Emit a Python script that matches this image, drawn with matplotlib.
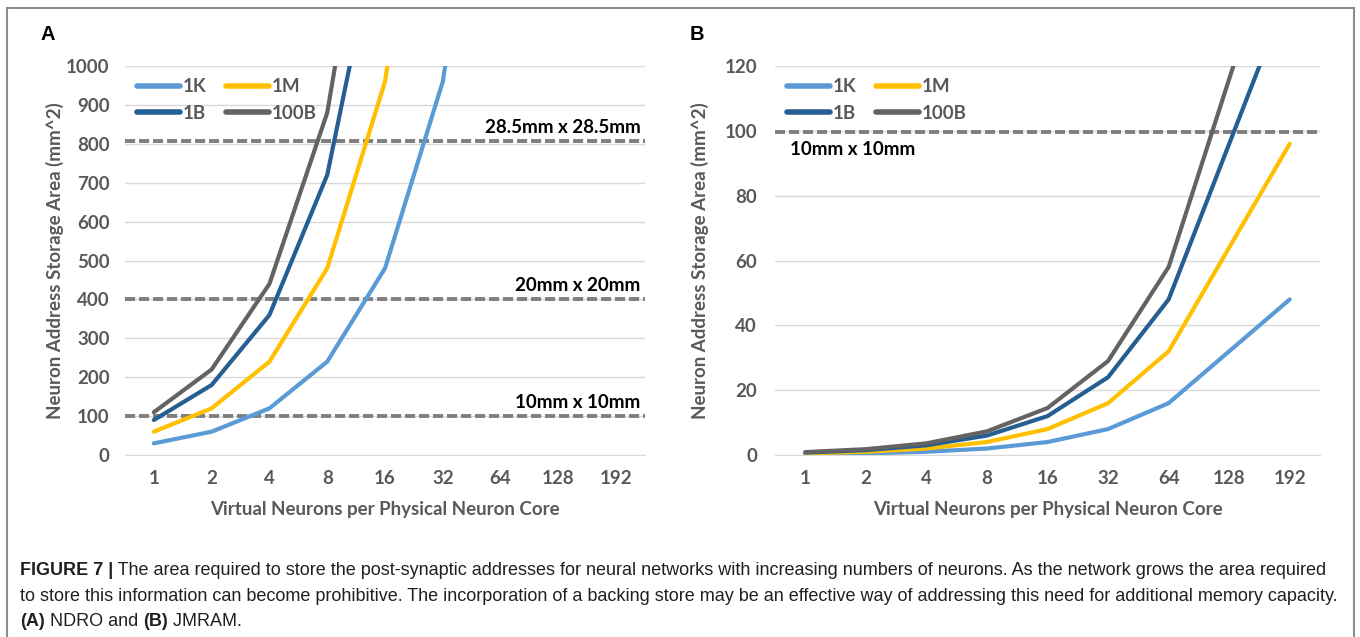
import numpy as np
import matplotlib.pyplot as plt
from matplotlib.lines import Line2D

# data
cores = ['1', '2', '4', '8', '16', '32', '64', '128', '192']
series = ['1K', '1M', '1B', '100B']
colors = ['#5B9BD5', '#FFC000', '#255E91', '#636363']

# panel A (NDRO), values past the top of the axis only fix the slope of the last segment
ndro_1k = [30, 60, 120, 240, 480, 960, 1920, np.nan, np.nan]
ndro_1m = [60, 120, 240, 480, 960, 1920, np.nan, np.nan, np.nan]
ndro_1b = [90, 180, 360, 720, 1440, np.nan, np.nan, np.nan, np.nan]
ndro_100b = [110, 220, 440, 880, 1760, np.nan, np.nan, np.nan, np.nan]

# panel B (JMRAM)
jmram_1k = [0.25, 0.5, 1, 2, 4, 8, 16, 32, 48]
jmram_1m = [0.5, 1, 2, 4, 8, 16, 32, 64, 96]
jmram_1b = [0.75, 1.5, 3, 6, 12, 24, 48, 96, 144]
jmram_100b = [0.9, 1.8, 3.6, 7.3, 14.5, 29, 58, 116, 174]

limits_a = [(806, '28.5mm x 28.5mm'), (400, '20mm x 20mm'), (100, '10mm x 10mm')]
limits_b = [(99.5, '10mm x 10mm')]

FONT = 'Lato'
TXT = '#595959'
FS = 13.5

fig = plt.figure(figsize=(13.6, 6.37), dpi=100)


def draw_panel(ax, data, ymax, ystep, ypad):
	x = np.arange(len(cores))
	lines = []
	for vals, name, c in zip(data, series, colors):
		ln, = ax.plot(x, vals, color=c, lw=3, label=name, solid_capstyle='round')
		lines.append(ln)
	ax.set_xlim(-0.5, len(cores) - 0.5)
	ax.set_ylim(0, ymax)
	ax.set_xticks(x)
	ax.set_xticklabels(cores)
	ax.set_yticks(np.arange(0, ymax + 1, ystep))
	ax.grid(axis='y', color='#D9D9D9', lw=1)
	ax.set_axisbelow(True)
	for s in ['left', 'right', 'top']:
		ax.spines[s].set_visible(False)
	ax.spines['bottom'].set_color('#D9D9D9')
	ax.tick_params(axis='both', length=0, labelsize=FS, labelcolor=TXT)
	ax.tick_params(axis='x', pad=11)
	ax.tick_params(axis='y', pad=ypad)
	for lab in ax.get_xticklabels() + ax.get_yticklabels():
		lab.set_fontfamily(FONT)
		lab.set_fontweight('bold')
	ax.set_xlabel('Virtual Neurons per Physical Neuron Core', fontsize=FS,
		fontweight='bold', color=TXT, fontfamily=FONT, labelpad=10)
	ax.set_ylabel('Neuron Address Storage Area (mm^2)', fontsize=FS,
		fontweight='bold', color=TXT, fontfamily=FONT)
	# legend filled column-wise -> order so rows read 1K 1M / 1B 100B
	order = [0, 2, 1, 3]
	leg = ax.legend([lines[i] for i in order], [series[i] for i in order],
		ncol=2, loc='upper left', bbox_to_anchor=(0.0, 1.0),
		frameon=False, handlelength=2.3, handletextpad=0.15, columnspacing=1.0,
		labelspacing=0.5, borderaxespad=0.25,
		prop={'family': FONT, 'weight': 'bold', 'size': FS})
	for t in leg.get_texts():
		t.set_color(TXT)
	for h in leg.legend_handles:
		h.set_linewidth(4)


# panel A
axA = fig.add_axes([0.0919, 0.2857, 0.3824, 0.6107])
draw_panel(axA, [ndro_1k, ndro_1m, ndro_1b, ndro_100b], 1000, 100, 11)
axA.yaxis.set_label_coords(-0.118, 0.5)
for yv, lab in limits_a:
	axA.axhline(yv, color='#7F7F7F', lw=2.8, ls=(0, (2.6, 1)), zorder=1)
	axA.text(8.42, yv + 14, lab, ha='right', va='bottom', fontsize=FS,
		fontweight='bold', fontfamily=FONT, color='black')

# panel B
axB = fig.add_axes([0.5699, 0.2857, 0.4007, 0.6107])
draw_panel(axB, [jmram_1k, jmram_1m, jmram_1b, jmram_100b], 120, 20, 13)
axB.yaxis.set_label_coords(-0.122, 0.5)
for yv, lab in limits_b:
	axB.axhline(yv, color='#7F7F7F', lw=2.8, ls=(0, (2.6, 1)), zorder=1)
	axB.text(-0.26, yv - 2.5, lab, ha='left', va='top', fontsize=FS,
		fontweight='bold', fontfamily=FONT, color='black')

# panel letters
fig.text(48 / 1360, 1 - 35 / 637, 'A', fontsize=14.5, fontweight='bold',
	fontfamily='Liberation Sans', ha='center', va='center')
fig.text(697 / 1360, 1 - 35 / 637, 'B', fontsize=14.5, fontweight='bold',
	fontfamily='Liberation Sans', ha='center', va='center')

# outer frame (open at the bottom)
fx0, fx1, fy1 = 7 / 1360, 1354 / 1360, 1 - 8 / 637
for xs, ys in [([fx0, fx0], [0, fy1]), ([fx0, fx1], [fy1, fy1]), ([fx1, fx1], [fy1, 0])]:
	fig.add_artist(Line2D(xs, ys, color='#8C8C8C', lw=1.5, transform=fig.transFigure))

# caption, bold and regular runs placed one after another on a line
cap_font = 'Liberation Sans'
cap_size = 13
cap_color = '#231F20'

fig.canvas.draw()
renderer = fig.canvas.get_renderer()


def text_run(y_px, parts):
	x = 20 / 1360
	y = 1 - y_px / 637
	for txt, bold in parts:
		t = fig.text(x, y, txt, fontsize=cap_size, fontfamily=cap_font,
			color=cap_color, fontweight='bold' if bold else 'normal',
			va='baseline', ha='left')
		bb = t.get_window_extent(renderer=renderer)
		x = x + bb.width / fig.bbox.width


text_run(575, [('FIGURE 7 |', True), (' The area required to store the post-synaptic addresses for neural networks with increasing numbers of neurons. As the network grows the area required', False)])
text_run(601, [('to store this information can become prohibitive. The incorporation of a backing store may be an effective way of addressing this need for additional memory capacity.', False)])
text_run(626, [('(A)', True), (' NDRO and ', False), ('(B)', True), (' JMRAM.', False)])

fig.savefig('out.png', dpi=100)
